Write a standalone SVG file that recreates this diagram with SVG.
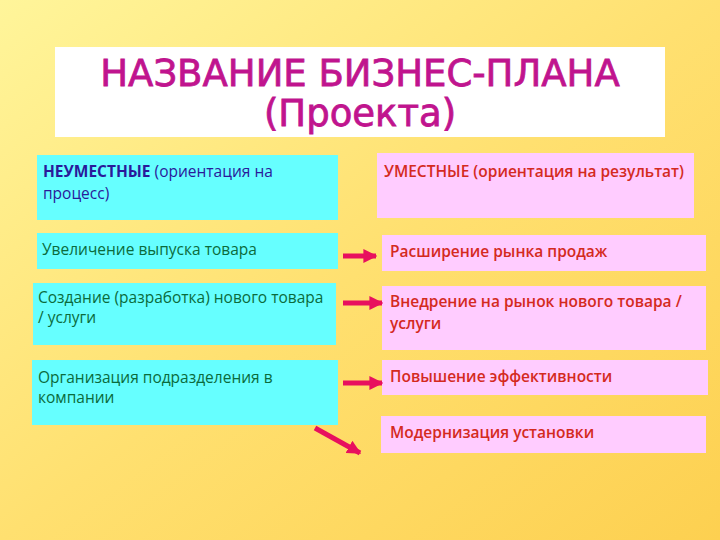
<svg xmlns="http://www.w3.org/2000/svg" width="720" height="540" viewBox="0 0 720 540">
<defs>
<linearGradient id="bg" x1="0" y1="0" x2="1" y2="1">
<stop offset="0" stop-color="#fff59a"/>
<stop offset="0.5" stop-color="#ffe070"/>
<stop offset="1" stop-color="#fdd050"/>
</linearGradient>
<marker id="ah" viewBox="0 0 10 10" refX="9" refY="5" markerWidth="2.8" markerHeight="2.8" orient="auto" markerUnits="strokeWidth">
<path d="M0,0 L10,5 L0,10 z" fill="#e8105e"/>
</marker>
<style>
.cy{fill:#66ffff;}
.pk{fill:#ffccff;}
.t{font-family:"Open Sans","Liberation Sans",sans-serif;font-size:15.5px;}
.g{fill:#0b6b3c;}
.r{fill:#d42a1e;font-weight:600;}
.b{fill:#2a1a9a;}
.title{font-family:"DejaVu Sans","Liberation Sans",sans-serif;font-size:37px;fill:#c0148e;stroke:#c0148e;stroke-width:0.8;text-anchor:middle;}
.ar{stroke:#e8105e;stroke-width:5;fill:none;marker-end:url(#ah);}
</style>
</defs>
<rect width="720" height="540" fill="url(#bg)"/>
<g id="title">
<rect x="55" y="47" width="610" height="90" fill="#ffffff"/>
<text class="title" x="360" y="86">НАЗВАНИЕ БИЗНЕС-ПЛАНА</text>
<text class="title" x="360" y="126">(Проекта)</text>
</g>
<g id="n1"><rect class="cy" x="37" y="155" width="301" height="65"/>
<text class="t b" x="43" y="177"><tspan font-weight="700">НЕУМЕСТНЫЕ</tspan> (ориентация на</text>
<text class="t b" x="43" y="199">процесс)</text></g>
<g id="n2"><rect class="cy" x="37" y="233" width="301" height="36"/>
<text class="t g" x="42" y="255">Увеличение выпуска товара</text></g>
<g id="n3"><rect class="cy" x="33" y="283" width="303" height="62"/>
<text class="t g" x="38" y="303">Создание (разработка) нового товара</text>
<text class="t g" x="38" y="323">/ услуги</text></g>
<g id="n4"><rect class="cy" x="32" y="360" width="306" height="65"/>
<text class="t g" x="38" y="383">Организация подразделения в</text>
<text class="t g" x="38" y="403">компании</text></g>
<g id="p1"><rect class="pk" x="377" y="153" width="317" height="65"/>
<text class="t r" x="384" y="177">УМЕСТНЫЕ (ориентация на результат)</text></g>
<g id="p2"><rect class="pk" x="382" y="235" width="324" height="36"/>
<text class="t r" x="390" y="257">Расширение рынка продаж</text></g>
<g id="p3"><rect class="pk" x="382" y="286" width="324" height="64"/>
<text class="t r" x="390" y="307">Внедрение на рынок нового товара /</text>
<text class="t r" x="390" y="329">услуги</text></g>
<g id="p4"><rect class="pk" x="382" y="360" width="326" height="35"/>
<text class="t r" x="390" y="382">Повышение эффективности</text></g>
<g id="p5"><rect class="pk" x="381" y="416" width="325" height="37"/>
<text class="t r" x="390" y="438">Модернизация установки</text></g>
<g id="connectors">
<line class="ar" x1="343" y1="256" x2="376" y2="256"/>
<line class="ar" x1="343" y1="303" x2="382" y2="303"/>
<line class="ar" x1="343" y1="383" x2="382" y2="383"/>
<line class="ar" x1="315" y1="428" x2="360" y2="453"/>
</g>
</svg>
